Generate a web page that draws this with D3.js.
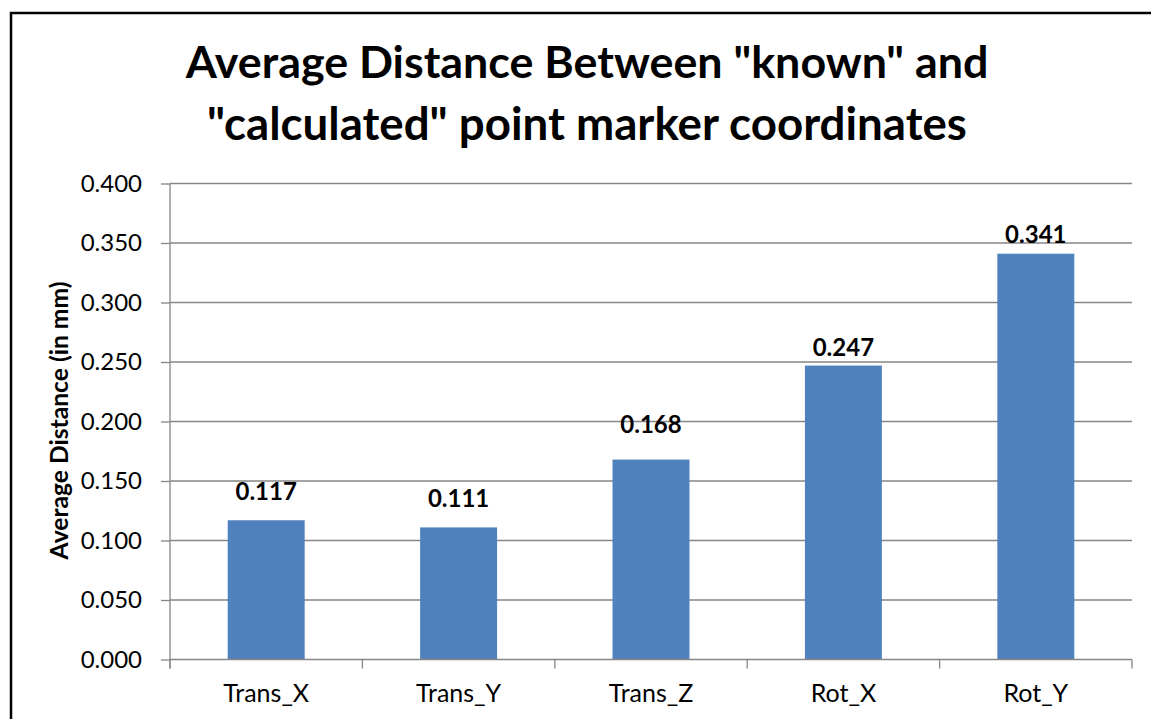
<!DOCTYPE html>
<html>
<head>
<meta charset="utf-8">
<script src="https://cdn.jsdelivr.net/npm/d3@7"></script>
<style>
  html, body { margin: 0; padding: 0; background: #fff; }
  svg { display: block; }
  text { font-family: Lato, "Open Sans", sans-serif; fill: #000; }
</style>
</head>
<body>
<script>
const categories = ["Trans_X", "Trans_Y", "Trans_Z", "Rot_X", "Rot_Y"];
const values = [0.117, 0.111, 0.168, 0.247, 0.341];
const valueLabels = ["0.117", "0.111", "0.168", "0.247", "0.341"];
const yTicks = [0, 0.05, 0.1, 0.15, 0.2, 0.25, 0.3, 0.35, 0.4];
const titleLines = ["Average Distance Between \"known\" and", "\"calculated\" point marker coordinates"];
const yAxisTitle = "Average Distance (in mm)";

(function () {
const W = 1151, H = 719;
const svg = d3.select("body").append("svg").attr("width", W).attr("height", H);

// outer frame
svg.append("rect").attr("x", 11).attr("y", 13).attr("width", 1200).attr("height", 800)
  .attr("fill", "none").attr("stroke", "#000").attr("stroke-width", 2.5);

const pLeft = 170, pRight = 1132, pTop = 183.5, pBottom = 659.5;
const x = d3.scaleBand().domain(categories).range([pLeft, pRight]).paddingInner(0.6).paddingOuter(0.3);
const y = d3.scaleLinear().domain([0, 0.4]).range([pBottom, pTop]);
const grid = "#868686";

// gridlines
svg.append("g").selectAll("line").data(yTicks.slice(1)).join("line")
  .attr("x1", pLeft).attr("x2", pRight)
  .attr("y1", d => y(d)).attr("y2", d => y(d))
  .attr("stroke", grid).attr("stroke-width", 1.3);

// y axis
const yAxis = d3.axisLeft(y).tickValues(yTicks).tickFormat(d3.format(".3f")).tickSize(9).tickPadding(19);
const gy = svg.append("g").attr("transform", `translate(${pLeft},0)`).call(yAxis);
gy.select(".domain").attr("d", `M0,${pTop}V${pBottom + 9}`).attr("stroke", grid).attr("stroke-width", 1.3);
gy.selectAll(".tick line").attr("stroke", grid).attr("stroke-width", 1.3);
gy.selectAll(".tick text").attr("font-size", 24).attr("font-family", "Lato, sans-serif").attr("fill", "#000");

// bars
svg.append("g").selectAll("rect").data(values).join("rect")
  .attr("x", (d, i) => x(categories[i]))
  .attr("width", x.bandwidth())
  .attr("y", d => y(d))
  .attr("height", d => y(0) - y(d))
  .attr("fill", "#4F81BD");

// x axis
const step = x.step();
const bounds = d3.range(categories.length + 1).map(i => pLeft + i * step);
svg.append("line").attr("x1", pLeft).attr("x2", pRight).attr("y1", pBottom).attr("y2", pBottom)
  .attr("stroke", grid).attr("stroke-width", 1.3);
svg.append("g").selectAll("line").data(bounds).join("line")
  .attr("x1", d => d).attr("x2", d => d).attr("y1", pBottom).attr("y2", pBottom + 9)
  .attr("stroke", grid).attr("stroke-width", 1.3);
svg.append("g").selectAll("text").data(categories).join("text")
  .attr("x", d => x(d) + x.bandwidth() / 2).attr("y", 702)
  .attr("text-anchor", "middle").attr("font-size", 25).text(d => d);

// value labels (nudges match manually placed labels in the original)
const nudge = [20, 20, 27, 9.5, 11];
svg.append("g").selectAll("text").data(values).join("text")
  .attr("x", (d, i) => x(categories[i]) + x.bandwidth() / 2)
  .attr("y", (d, i) => y(d) - nudge[i])
  .attr("text-anchor", "middle").attr("font-size", 24).attr("font-weight", "bold")
  .text((d, i) => valueLabels[i]);

// y-axis title
const yt = svg.append("text")
  .attr("transform", `translate(68,${(pTop + pBottom) / 2 - 1}) rotate(-90)`)
  .attr("text-anchor", "middle").attr("font-weight", "bold").attr("font-size", 20)
  .text(yAxisTitle);
{
  const w = yt.node().getComputedTextLength();
  yt.attr("font-size", 20 * 278 / w);
}

// title
const titleTargets = [803, 760];
const titleBaselines = [78, 140];
titleLines.forEach((t, i) => {
  const el = svg.append("text").attr("x", 587).attr("y", titleBaselines[i])
    .attr("text-anchor", "middle").attr("font-weight", "bold").attr("font-size", 42).text(t);
  const w = el.node().getComputedTextLength();
  el.attr("font-size", 42 * titleTargets[i] / w);
});
})();
</script>
</body>
</html>
